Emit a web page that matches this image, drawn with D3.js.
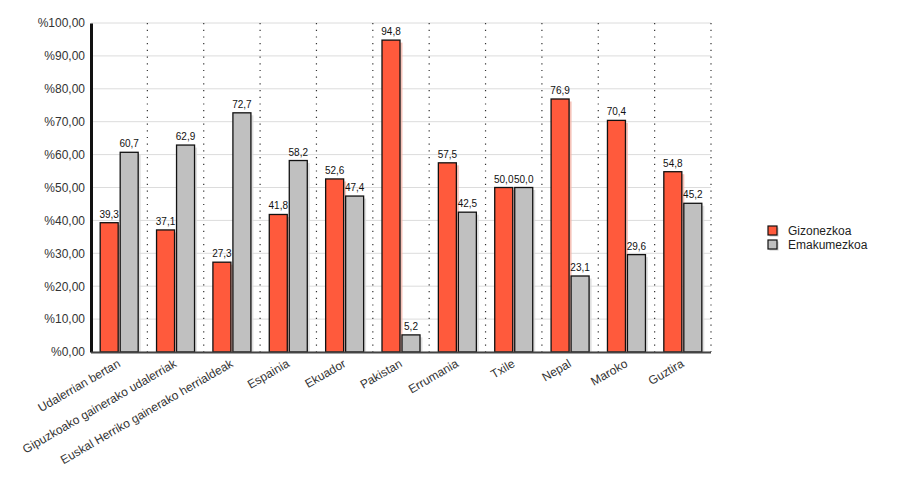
<!DOCTYPE html>
<html><head><meta charset="utf-8">
<script src="https://cdn.jsdelivr.net/npm/d3@7"></script>
<style>body{margin:0;background:#fff}svg{font-family:"Liberation Sans",Arial,sans-serif}</style>
</head><body><svg id="c" width="900" height="500"></svg>
<script>
const categories = ["Udalerrian bertan","Gipuzkoako gainerako udalerriak","Euskal Herriko gainerako herrialdeak","Espainia","Ekuador","Pakistan","Errumania","Txile","Nepal","Maroko","Guztira"];
const seriesNames = ["Gizonezkoa","Emakumezkoa"];
const gizonezkoa = [39.3,37.1,27.3,41.8,52.6,94.8,57.5,50.0,76.9,70.4,54.8];
const emakumezkoa = [60.7,62.9,72.7,58.2,47.4,5.2,42.5,50.0,23.1,29.6,45.2];
const yTicks = [0,10,20,30,40,50,60,70,80,90,100];
const colors = ["#ff5a3c","#c0c0c0"];
const shadows = ["#f4b4a8","#d8d8d8"];

const svg = d3.select("#c");
const L=91, R=711, T=23, B=352;
const x = d3.scaleBand().domain(categories).range([L,R]).paddingInner(0).paddingOuter(0);
const y = d3.scaleLinear().domain([0,100]).range([B,T]);
const bw = 18, gap = 2;
const x1 = d3.scaleOrdinal().domain(seriesNames).range([0, bw+gap]);
const off = (x.bandwidth() - (2*bw+gap))/2;

// grid
svg.append("g").selectAll("line").data(yTicks).join("line")
  .attr("x1",L).attr("x2",R).attr("y1",d=>y(d)).attr("y2",d=>y(d))
  .attr("stroke","#dcdcdc").attr("stroke-width",1);
svg.append("g").selectAll("line").data(categories.map((c,i)=>i+1)).join("line")
  .attr("x1",i=>L+i*x.bandwidth()).attr("x2",i=>L+i*x.bandwidth())
  .attr("y1",T).attr("y2",B).attr("stroke","#333").attr("stroke-width",1.2)
  .attr("stroke-dasharray","1.2,5.5");

// bars
const data = categories.map((c,i)=>({c, v:[gizonezkoa[i],emakumezkoa[i]]}));
const g = svg.append("g");
data.forEach(d=>{
  d.v.forEach((v,j)=>{
    const bx = x(d.c)+off+x1(seriesNames[j]);
    g.append("rect").attr("x",bx+2.5).attr("y",y(v)+2.5).attr("width",bw).attr("height",B-y(v)-2.5)
      .attr("fill",shadows[j]).attr("opacity",0.8);
  });
});
data.forEach(d=>{
  d.v.forEach((v,j)=>{
    const bx = x(d.c)+off+x1(seriesNames[j]);
    g.append("rect").attr("x",bx).attr("y",y(v)).attr("width",bw).attr("height",B-y(v))
      .attr("fill",colors[j]).attr("stroke","#111").attr("stroke-width",1.3);
    g.append("text").attr("x",bx+bw/2).attr("y",y(v)-5).attr("text-anchor","middle")
      .attr("font-size",10).attr("fill","#111").text(v.toFixed(1).replace(".",","));
  });
});

// axes
const ya = d3.axisLeft(y).tickValues(yTicks).tickSize(0).tickPadding(6)
  .tickFormat(d=>"%"+d.toFixed(2).replace(".",","));
const yg = svg.append("g").attr("transform",`translate(${L},0)`).call(ya);
yg.select(".domain").attr("stroke","#111").attr("stroke-width",3);
yg.selectAll("text").attr("font-size",12).attr("fill","#333").attr("font-family","Liberation Sans, Arial");
svg.append("line").attr("x1",L).attr("x2",R).attr("y1",B+0.5).attr("y2",B+0.5).attr("stroke","#444").attr("stroke-width",2);

const xa = d3.axisBottom(x).tickSize(0).tickPadding(0);
const xg = svg.append("g").attr("transform",`translate(0,${B})`).call(xa);
xg.select(".domain").remove();
xg.selectAll("text").attr("font-size",12).attr("fill","#333").attr("font-family","Liberation Sans, Arial")
  .attr("text-anchor","end").attr("dy",0).attr("y",0)
  .attr("transform","translate(2,14) rotate(-30)");

// legend
const lg = svg.append("g").attr("transform","translate(768,226)");
seriesNames.forEach((s,i)=>{
  const r = lg.append("g").attr("transform",`translate(0,${i*14})`);
  r.append("rect").attr("x",1.5).attr("y",1.5).attr("width",9).attr("height",9).attr("fill","#ccc");
  r.append("rect").attr("x",0).attr("y",0).attr("width",9).attr("height",9).attr("fill",colors[i]).attr("stroke","#111").attr("stroke-width",1.2);
  r.append("text").attr("x",20).attr("y",9).attr("font-size",12).attr("fill","#222").text(s);
});
</script></body></html>
